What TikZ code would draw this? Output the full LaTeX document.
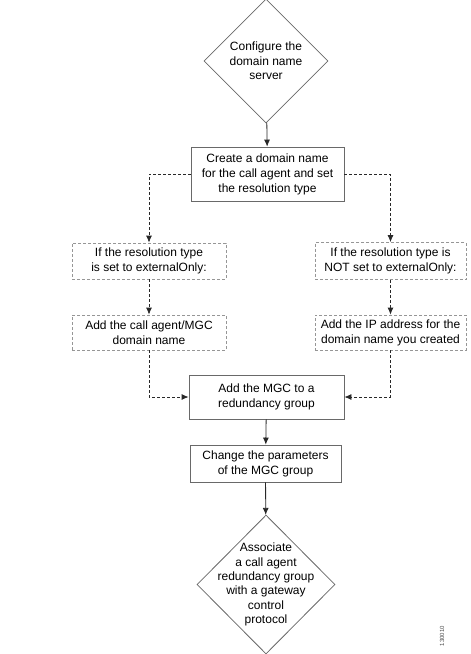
\documentclass[tikz,border=0pt]{standalone}
\usepackage{fontspec}
\setmainfont{Liberation Sans}
\usetikzlibrary{arrows.meta, positioning, shapes.geometric, calc}
\definecolor{boxline}{RGB}{105,105,105}
\definecolor{dashline}{RGB}{150,150,150}
\definecolor{arrowcol}{RGB}{40,40,40}
\tikzset{
  stepbox/.style  = {draw=boxline, line width=0.8pt, fill=white, align=center,
                     inner sep=2pt, font=\fontsize{12}{15}\selectfont},
  dashbox/.style  = {draw=dashline, line width=0.8pt, dash pattern=on 3pt off 2pt,
                     fill=white, align=center, inner sep=2pt,
                     font=\fontsize{12}{15}\selectfont},
  decision/.style = {diamond, draw=boxline, line width=0.8pt, fill=white,
                     inner sep=0pt},
  dtext/.style    = {align=center, font=\fontsize{12}{14.3}\selectfont},
  arrow/.style    = {-{Latex[length=7pt, width=6pt]}, line width=0.8pt, color=arrowcol},
  darrow/.style   = {arrow, dash pattern=on 3pt off 2pt},
}
\begin{document}
\begin{tikzpicture}[x=1pt, y=-1pt]
\useasboundingbox (0,0) rectangle (471,654);

% start and end (text set as a centre label so the diamond keeps its size)
\node[decision, minimum width=124pt, minimum height=124pt,
      label={[dtext]center:{Configure the\\domain name\\server}}] (dns) at (266,61) {};
\node[decision, minimum width=138pt, minimum height=139pt,
      label={[dtext]center:{Associate\\a call agent\\redundancy group\\with a gateway\\control\\protocol}}]
      (assoc) at (266,584.5) {};

% steps
\node[stepbox, minimum width=153pt, minimum height=54pt] (create) at (267.5,174)
  {Create a domain name\\for the call agent and set\\the resolution type};
\node[dashbox, minimum width=154pt, minimum height=36pt] (ifext) at (149,261)
  {If the resolution type\\is set to externalOnly:};
\node[dashbox, minimum width=151pt, minimum height=37pt] (ifnot) at (390.5,261)
  {If the resolution type is\\NOT set to externalOnly:};
\node[dashbox, minimum width=154pt, minimum height=35pt] (addagent) at (149,332.5)
  {Add the call agent/MGC\\domain name};
\node[dashbox, minimum width=151pt, minimum height=35pt] (addip) at (390.5,332.5)
  {Add the IP address for the\\domain name you created};
\node[stepbox, minimum width=155pt, minimum height=44pt] (addmgc) at (266.5,397)
  {Add the MGC to a\\redundancy group};
\node[stepbox, minimum width=151pt, minimum height=37pt] (change) at (265.5,463.5)
  {Change the parameters\\of the MGC group};

% connectors
\draw[arrow] (dns) -- (create);
\draw[darrow] (create.west) -| (ifext.north);
\draw[darrow] (create.east) -| (ifnot.north);
\draw[darrow] (ifext) -- (addagent);
\draw[darrow] (ifnot) -- (addip);
\draw[darrow] (addagent.south) |- (addmgc.west);
\draw[darrow] (addip.south) |- (addmgc.east);
\draw[arrow] (addmgc) -- (change);
\draw[arrow] (change) -- (assoc);

\node[rotate=90, font=\fontsize{6}{7}\selectfont, text=black!70] (fig) at (442,636) {130010};

\end{tikzpicture}
\end{document}
